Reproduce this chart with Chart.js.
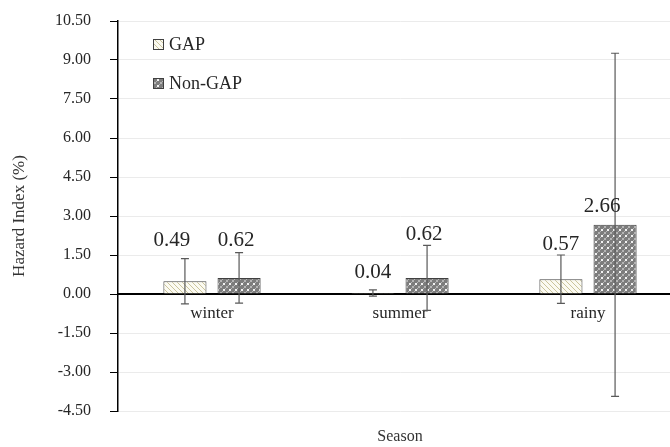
<!DOCTYPE html>
<html>
<head>
<meta charset="utf-8">
<script src="https://cdn.jsdelivr.net/npm/chart.js@4.4.1/dist/chart.umd.min.js"></script>
<style>
    html, body { margin: 0; padding: 0; background: #fff; overflow: hidden; }
    #wrap { width: 682px; height: 447px; }
</style>
</head>
<body>
<div id="wrap"><canvas id="chart" width="682" height="447"></canvas></div>
<script>
// ===============================
// DATA
// ===============================
const categories = ['winter', 'summer', 'rainy'];
const gapValues = [0.49, 0.04, 0.57];
const nonGapValues = [0.62, 0.62, 2.66];
const gapErrors = [0.87, 0.12, 0.93];
const nonGapErrors = [0.97, 1.25, 6.60];
const yMin = -4.5;
const yMax = 10.5;
const yStep = 1.5;

const serif = "'Liberation Serif', 'DejaVu Serif', serif";

// label nudges (pixels) relative to bar top, per dataset / category
const labelShift = [
    [{dx: -13, dy: -41}, {dx: 0, dy: -20}, {dx: 0, dy: -35}],
    [{dx: -3, dy: -37}, {dx: -3, dy: -43}, {dx: -13, dy: -18}]
];

// ===============================
// PATTERNS
// ===============================
function hatchPattern() {
    const c = document.createElement('canvas');
    c.width = 5; c.height = 5;
    const g = c.getContext('2d');
    g.fillStyle = '#fbfaf1';
    g.fillRect(0, 0, 5, 5);
    g.strokeStyle = '#cbc49c';
    g.lineWidth = 1;
    g.beginPath();
    g.moveTo(-1, -1); g.lineTo(6, 6);
    g.moveTo(4, -1); g.lineTo(6, 1);
    g.moveTo(-1, 4); g.lineTo(1, 6);
    g.stroke();
    return g.createPattern(c, 'repeat');
}

function checkPattern() {
    const c = document.createElement('canvas');
    c.width = 6; c.height = 6;
    const g = c.getContext('2d');
    g.fillStyle = '#7d7d7d';
    g.fillRect(0, 0, 6, 6);
    g.fillStyle = '#f2f2f2';
    g.fillRect(1, 1, 2, 2);
    g.fillStyle = '#b5b5b5';
    g.fillRect(4, 4, 2, 2);
    g.fillRect(3, 0, 1, 1);
    g.fillRect(0, 3, 1, 1);
    return g.createPattern(c, 'repeat');
}

const gapFill = hatchPattern();
const nonGapFill = checkPattern();

// ===============================
// PLUGIN: error bars, labels, legend, x title
// ===============================
const extras = {
    id: 'extras',
    afterDatasetsDraw(chart) {
        const ctx = chart.ctx;
        const y = chart.scales.y;
        const errs = [gapErrors, nonGapErrors];
        ctx.save();
        ctx.strokeStyle = '#595959';
        ctx.lineWidth = 1.2;
        chart.data.datasets.forEach((ds, i) => {
            chart.getDatasetMeta(i).data.forEach((bar, j) => {
                const v = ds.data[j];
                const top = y.getPixelForValue(v + errs[i][j]);
                const bot = y.getPixelForValue(v - errs[i][j]);
                ctx.beginPath();
                ctx.moveTo(bar.x, top); ctx.lineTo(bar.x, bot);
                ctx.moveTo(bar.x - 4, top); ctx.lineTo(bar.x + 4, top);
                ctx.moveTo(bar.x - 4, bot); ctx.lineTo(bar.x + 4, bot);
                ctx.stroke();
            });
        });

        // value labels
        ctx.fillStyle = '#262626';
        ctx.font = '21px ' + serif;
        ctx.textAlign = 'center';
        ctx.textBaseline = 'middle';
        chart.data.datasets.forEach((ds, i) => {
            chart.getDatasetMeta(i).data.forEach((bar, j) => {
                const s = labelShift[i][j];
                ctx.fillText(ds.data[j].toFixed(2), bar.x + s.dx, bar.y + s.dy);
            });
        });
        ctx.restore();
    },
    afterDraw(chart) {
        const ctx = chart.ctx;
        const area = chart.chartArea;
        ctx.save();

        // legend
        ctx.font = '18px ' + serif;
        ctx.textBaseline = 'middle';
        ctx.textAlign = 'left';
        chart.data.datasets.forEach((ds, i) => {
            const bx = 153, by = 39 + i * 39;
            ctx.fillStyle = ds.backgroundColor;
            ctx.fillRect(bx, by, 11, 11);
            ctx.strokeStyle = '#404040';
            ctx.lineWidth = 1;
            ctx.strokeRect(bx + 0.5, by + 0.5, 10, 10);
            ctx.fillStyle = '#262626';
            ctx.fillText(ds.label, bx + 16, by + 6);
        });

        // x axis title
        ctx.font = '16px ' + serif;
        ctx.textAlign = 'center';
        ctx.fillStyle = '#333';
        ctx.fillText('Season', (area.left + area.right) / 2, 437);
        ctx.restore();
    }
};

// ===============================
// CHART
// ===============================
const ctx = document.getElementById('chart').getContext('2d');
new Chart(ctx, {
    type: 'bar',
    data: {
        labels: categories,
        datasets: [
            {
                label: 'GAP',
                data: gapValues,
                backgroundColor: gapFill,
                borderColor: '#404040',
                borderWidth: 1,
                borderSkipped: 'start'
            },
            {
                label: 'Non-GAP',
                data: nonGapValues,
                backgroundColor: nonGapFill,
                borderColor: '#404040',
                borderWidth: 1,
                borderSkipped: 'start'
            }
        ]
    },
    options: {
        responsive: false,
        animation: false,
        devicePixelRatio: 1,
        categoryPercentage: 0.576,
        barPercentage: 0.796,
        layout: {
            padding: { top: 21, bottom: 36, left: 0, right: 0 }
        },
        plugins: {
            legend: { display: false },
            tooltip: { enabled: false }
        },
        scales: {
            x: {
                position: { y: 0 },
                z: 1,
                grid: { display: false },
                border: { color: '#000', width: 2 },
                ticks: {
                    color: '#262626',
                    padding: 1,
                    font: { family: serif, size: 17 }
                }
            },
            y: {
                min: yMin,
                max: yMax,
                afterFit(scale) {
                    scale.width = 118;
                    scale.paddingTop = 0;
                    scale.paddingBottom = 0;
                },
                grid: {
                    color: '#ebebeb',
                    tickColor: '#000',
                    tickLength: 8
                },
                border: { color: '#000', width: 1.5 },
                ticks: {
                    stepSize: yStep,
                    padding: 19,
                    color: '#262626',
                    font: { family: serif, size: 16 },
                    callback: v => Number(v).toFixed(2)
                },
                title: {
                    display: true,
                    text: 'Hazard Index (%)',
                    color: '#333',
                    padding: { top: 9 },
                    font: { family: serif, size: 17 }
                }
            }
        }
    },
    plugins: [extras]
});
</script>
</body>
</html>
